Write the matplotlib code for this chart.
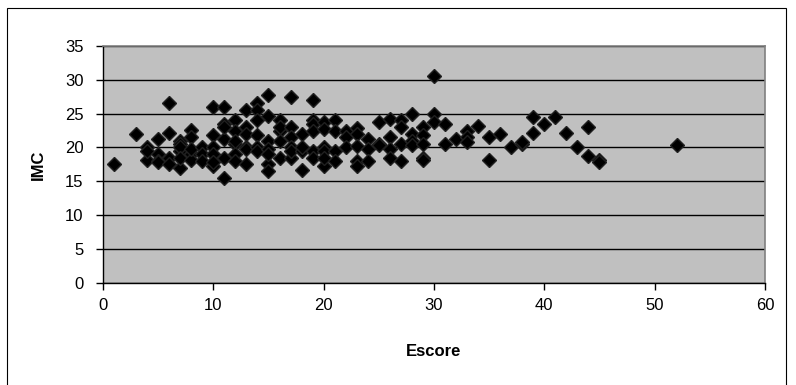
import matplotlib
matplotlib.use("Agg")
import matplotlib.pyplot as plt
from matplotlib.patches import Rectangle

plt.rcParams['font.family'] = ['Liberation Sans', 'DejaVu Sans']

# Escore values and matching IMC values
escore = [1,
          3,
          4, 4, 4,
          5, 5, 5, 5,
          6, 6, 6, 6,
          7, 7, 7, 7, 7, 7,
          8, 8, 8, 8, 8,
          9, 9, 9,
          10, 10, 10, 10, 10, 10,
          11, 11, 11, 11, 11, 11,
          12, 12, 12, 12, 12, 12,
          13, 13, 13, 13, 13, 13,
          14, 14, 14, 14, 14, 14,
          15, 15, 15, 15, 15, 15, 15,
          16, 16, 16, 16, 16,
          17, 17, 17, 17, 17, 17,
          18, 18, 18, 18,
          19, 19, 19, 19, 19, 19,
          20, 20, 20, 20, 20, 20,
          21, 21, 21, 21,
          22, 22, 22,
          23, 23, 23, 23, 23,
          24, 24, 24,
          25, 25, 25,
          26, 26, 26, 26,
          27, 27, 27, 27,
          28, 28, 28, 28,
          29, 29, 29, 29, 29,
          30, 30, 30,
          31, 31,
          32,
          33, 33, 33,
          34,
          35, 35,
          36,
          37,
          38, 38,
          39, 39,
          40,
          41,
          42,
          43,
          44, 44,
          45, 45,
          52]
imc = [17.6,
       22.0,
       20.0, 18.2, 19.5,
       21.2, 19.0, 18.0, 17.8,
       26.5, 22.2, 18.5, 17.5,
       21.0, 20.5, 19.5, 20.0, 17.0, 18.5,
       22.6, 21.5, 19.0, 18.2, 19.8,
       20.0, 19.0, 18.0,
       26.0, 21.8, 20.0, 19.0, 17.2, 17.8,
       26.0, 23.5, 21.2, 18.5, 15.5, 23.0,
       24.0, 22.5, 20.5, 19.0, 18.0, 21.0,
       25.5, 23.0, 22.0, 20.0, 19.8, 17.6,
       26.5, 25.5, 24.0, 21.8, 20.0, 19.5,
       27.7, 24.7, 21.0, 19.8, 17.5, 16.5, 19.0,
       24.0, 22.5, 21.0, 18.5, 23.0,
       27.5, 23.0, 21.5, 20.0, 18.5, 19.5,
       22.0, 19.5, 16.7, 20.0,
       27.0, 24.0, 23.5, 22.5, 19.5, 18.5,
       23.8, 22.7, 20.0, 19.5, 17.3, 18.5,
       24.0, 22.5, 19.5, 18.0,
       22.5, 21.5, 20.0,
       22.8, 22.0, 20.2, 18.0, 17.3,
       21.2, 19.8, 18.0,
       23.8, 20.5, 20.3,
       24.2, 21.5, 19.8, 18.5,
       24.0, 23.0, 20.5, 18.0,
       25.0, 22.0, 21.0, 20.3,
       23.0, 21.8, 20.5, 18.5, 18.2,
       30.5, 25.0, 23.8,
       23.5, 20.5,
       21.2,
       22.5, 21.5, 20.8,
       23.2,
       21.5, 18.2,
       22.0,
       20.0,
       20.5, 20.8,
       24.5, 22.2,
       23.5,
       24.5,
       22.2,
       20.0,
       23.0, 18.8,
       18.2, 17.8,
       20.3]

fig = plt.figure(figsize=(7.96, 3.85), dpi=100)
ax = fig.add_axes([0.1294, 0.265, 0.8316, 0.616])

# outer chart frame
fig.patches.append(Rectangle((0.009, -0.05), 0.978, 1.03, transform=fig.transFigure,
                             fill=False, edgecolor='black', linewidth=0.8))

ax.set_facecolor('#C0C0C0')
ax.set_xlim(0, 60)
ax.set_ylim(0, 35)
ax.set_xticks(range(0, 61, 10))
ax.set_yticks(range(0, 36, 5))
ax.yaxis.grid(True, color='black', linewidth=1)
ax.set_axisbelow(True)

ax.plot(escore, imc, linestyle='none', marker='D', markersize=7.5,
        color='black', markeredgecolor='#202020', zorder=3)

for s in ['top', 'right']:
    ax.spines[s].set_color('#808080')
    ax.spines[s].set_linewidth(1.2)
ax.spines['left'].set_linewidth(1)
ax.spines['bottom'].set_linewidth(1)

ax.tick_params(labelsize=12, length=5, width=1, direction='out')
ax.tick_params(axis='x', pad=6)
ax.tick_params(axis='y', pad=9)
ax.set_xlabel('Escore', fontsize=12, fontweight='bold', labelpad=22)
ax.set_ylabel('IMC', fontsize=12, fontweight='bold', labelpad=14)

fig.savefig('out.png', dpi=100)
